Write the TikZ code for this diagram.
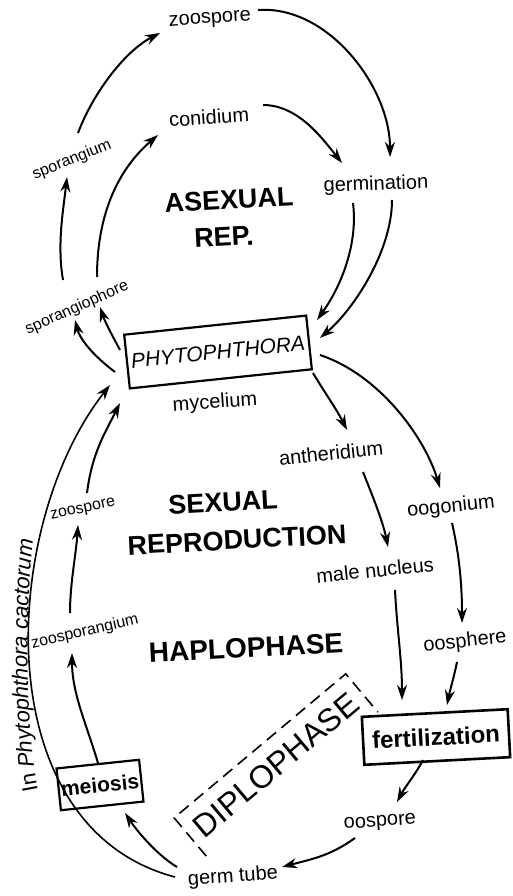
\documentclass[tikz,border=0pt]{standalone}
\usepackage{fontspec}
\setmainfont{Liberation Sans}
\usetikzlibrary{arrows.meta,decorations.text}
\newcommand\cactup{\fontsize{22}{24}\selectfont}
\newcommand\cactit{\fontsize{22}{24}\selectfont\itshape}
\tikzset{
  stage/.style={font=\fontsize{20}{22}\selectfont, inner sep=1pt, rotate=4},
  stagesmall/.style={font=\fontsize{16}{18}\selectfont, inner sep=1pt},
  phase/.style={font=\fontsize{27}{29}\selectfont\bfseries, inner sep=1pt, rotate=3},
  eventbox/.style={draw, line width=2.2pt, inner sep=2pt},
  cycle/.style={-{Stealth[length=15pt,width=10pt]}, line width=2pt},
}

\begin{document}
\begin{tikzpicture}[x=1pt,y=-1pt]
  \useasboundingbox (0,0) rectangle (513,896);

  % asexual part
  \node[stage] (zsptop) at (210,20) {zoospore};
  \node[stage] (conid) at (209,117) {conidium};
  \node[stagesmall, rotate=22] (sporang) at (72,160) {sporangium};
  \node[stage, rotate=-2] (germ) at (376,185) {germination};
  \node[phase] (asex) at (229,200) {ASEXUAL};
  \node[phase] (rep) at (224,237) {REP.};
  \node[stagesmall, rotate=24] (sporph) at (77,308) {sporangiophore};
  \node[eventbox, rotate=6, minimum width=183pt, minimum height=54pt,
    font=\fontsize{21}{23}\selectfont\itshape] (phyto) at (218,352) {PHYTOPHTHORA};
  \node[stage] (mycel) at (215,403) {mycelium};

  % sexual part
  \node[stage, rotate=2] (anther) at (331,453) {antheridium};
  \node[stage, rotate=2] (oogon) at (451,507) {oogonium};
  \node[phase] (sexual) at (223,502) {SEXUAL};
  \node[phase] (reprod) at (237,540) {REPRODUCTION};
  \node[stage, rotate=2] (malenuc) at (375,570) {male nucleus};
  \node[stagesmall, rotate=12] (zspl) at (83,510) {zoospore};
  \node[stagesmall, rotate=13] (zspor) at (85,632) {zoosporangium};
  \node[phase, font=\fontsize{28}{30}\selectfont\bfseries] (haplo) at (246,648) {HAPLOPHASE};
  \node[stage, rotate=2] (oosph) at (465,642) {oosphere};
  \node[eventbox, line width=2.6pt, rotate=3, minimum width=146pt, minimum height=48pt,
    font=\fontsize{24}{26}\selectfont\bfseries] (fert) at (436,737) {fertilization};
  \node[eventbox, rotate=6, minimum width=83pt, minimum height=42pt,
    font=\fontsize{21}{23}\selectfont\bfseries] (meiosis) at (100,785) {meiosis};
  \node[rotate=40, font=\fontsize{32}{34}\selectfont] (diplo) at (276,765) {DIPLOPHASE};
  \node[stage] (oosp) at (380,823) {oospore};
  \node[stage] (germtube) at (233,877) {germ tube};

  % open dashed frame round the diplophase
  \begin{scope}[shift={(diplo.center)}, rotate=40]
    \draw[line width=1.6pt, dash pattern=on 12pt off 7pt]
      (-112,25) -- (-112,-25) -- (112,-25) -- (112,25);
  \end{scope}

  % asexual cycle
  \draw[cycle] ([shift={(-14,-28)}]sporph.center) .. controls +(-6,-35) and +(-4,35) .. ([shift={(-5,17)}]sporang.center);
  \draw[cycle] ([shift={(6,-27)}]sporang.center) .. controls +(15,-40) and +(-35,18) .. ([shift={(-50,13)}]zsptop.center);
  \draw[cycle] ([shift={(20,-31)}]sporph.center) .. controls +(0,-70) and +(-35,30) .. ([shift={(-51,18)}]conid.center);
  \draw[cycle] ([shift={(48,-10)}]zsptop.center) .. controls +(70,-5) and +(0,-70) .. ([shift={(14,-28)}]germ.center);
  \draw[cycle] ([shift={(54,-12)}]conid.center) .. controls +(35,0) and +(-20,-25) .. ([shift={(-34,-22)}]germ.center);
  \draw[cycle] ([shift={(-23,18)}]germ.center) .. controls +(5,40) and +(25,-35) .. ([shift={(99,-32)}]phyto.center);
  \draw[cycle] ([shift={(16,15)}]germ.center) .. controls +(0,50) and +(35,-30) .. ([shift={(102,-14)}]phyto.center);
  \draw[cycle] ([shift={(-103,20)}]phyto.center) .. controls +(-20,-15) and +(5,20) .. ([shift={(-2,12)}]sporph.center);
  \draw[cycle] ([shift={(-98,-2)}]phyto.center) .. controls +(-8,-15) and +(5,15) .. ([shift={(23,-1)}]sporph.center);

  % sexual cycle
  \draw[cycle] ([shift={(95,21)}]phyto.center) .. controls +(12,20) and +(-10,-20) .. ([shift={(16,-23)}]anther.center);
  \draw[cycle] ([shift={(102,3)}]phyto.center) .. controls +(60,20) and +(-15,-50) .. ([shift={(-11,-19)}]oogon.center);
  \draw[cycle] ([shift={(32,19)}]anther.center) .. controls +(10,25) and +(-5,-25) .. ([shift={(13,-23)}]malenuc.center);
  \draw[cycle] ([shift={(1,16)}]oogon.center) .. controls +(8,35) and +(0,-35) .. ([shift={(-3,-19)}]oosph.center);
  \draw[cycle] ([shift={(20,20)}]malenuc.center) .. controls +(2,40) and +(0,-40) .. ([shift={(-34,-37)}]fert.center);
  \draw[cycle] ([shift={(-8,20)}]oosph.center) .. controls +(-3,15) and +(3,-15) .. ([shift={(11,-32)}]fert.center);
  \draw[cycle] ([shift={(-13,23)}]fert.center) .. controls +(-8,15) and +(8,-15) .. ([shift={(17,-21)}]oosp.center);
  \draw[cycle] ([shift={(-25,15)}]oosp.center) .. controls +(-25,18) and +(30,-8) .. ([shift={(49,-10)}]germtube.center);
  \draw[cycle] ([shift={(-56,-10)}]germtube.center) .. controls +(-20,-12) and +(12,18) .. ([shift={(25,28)}]meiosis.center);
  \draw[cycle] ([shift={(-2,-22)}]meiosis.center) .. controls +(-12,-40) and +(0,40) .. ([shift={(-13,21)}]zspor.center);
  \draw[cycle] ([shift={(-15,-19)}]zspor.center) .. controls +(0,-30) and +(-2,30) .. ([shift={(-5,15)}]zspl.center);
  \draw[cycle] ([shift={(4,-17)}]zspl.center) .. controls +(5,-40) and +(-15,30) .. ([shift={(-98,51)}]phyto.center);
  \draw[cycle, line width=1.6pt] ([shift={(-58,0)}]germtube.center) .. controls +(-190,-50) and +(-110,140) .. ([shift={(-108,33)}]phyto.center);

  % species name along the outer curve
  \path[decorate, decoration={text along path, text align=center,
    text={|\cactup|In |\cactit|Phytophthora cactorum}}]
    (44,815) .. controls (26,760) and (22,620) .. (36,515);
\end{tikzpicture}
\end{document}
